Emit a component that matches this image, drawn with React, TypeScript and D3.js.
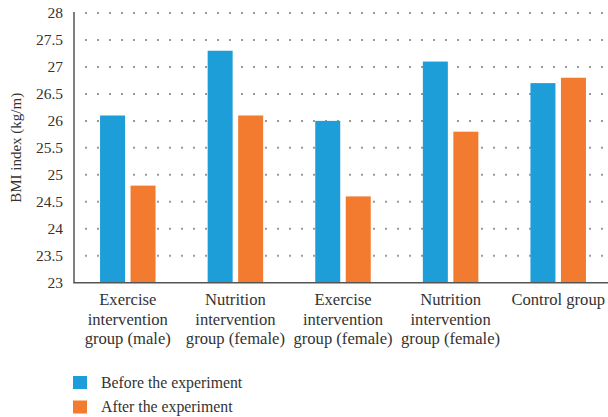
import React from "react";
import * as d3 from "d3";

const categories: string[][] = [
  ["Exercise", "intervention", "group (male)"],
  ["Nutrition", "intervention", "group (female)"],
  ["Exercise", "intervention", "group (female)"],
  ["Nutrition", "intervention", "group (female)"],
  ["Control group"],
];
const beforeValues = [26.1, 27.3, 26.0, 27.1, 26.7];
const afterValues = [24.8, 26.1, 24.6, 25.8, 26.8];
const yTicks = [23, 23.5, 24, 24.5, 25, 25.5, 26, 26.5, 27, 27.5, 28];
const seriesNames = ["Before the experiment", "After the experiment"];
const seriesColors = ["#1E9ED8", "#F37B2F"];

const W = 608;
const H = 417;
const FONT = "'Liberation Serif', 'Times New Roman', serif";

export default function App() {
  const left = 74;
  const top = 13;
  const bottom = 282.7;
  const x = d3
    .scaleBand<number>()
    .domain(categories.map((_, i) => i))
    .range([left, 612]);
  const y = d3.scaleLinear().domain([23, 28]).range([bottom, top]);
  const barW = 25;
  const gap = 5.5;
  const series = [beforeValues, afterValues];

  return (
    <svg
      width={W}
      height={H}
      style={{ position: "absolute", left: 0, top: 0, background: "#fff" }}
      fontFamily={FONT}
    >
      {/* dotted gridlines */}
      {yTicks.slice(1).map((t) => (
        <line
          key={"g" + t}
          x1={left + 11}
          x2={W}
          y1={y(t)}
          y2={y(t)}
          stroke="#9a9a9a"
          strokeWidth={2}
          strokeDasharray="2 10"
        />
      ))}
      {/* tick labels */}
      {yTicks.map((t) => (
        <text
          key={"t" + t}
          x={63}
          y={y(t)}
          dy="0.35em"
          textAnchor="end"
          fontSize={15.5}
          fill="#333"
        >
          {t}
        </text>
      ))}
      {/* bars */}
      {series.map((vals, s) =>
        vals.map((v, i) => {
          const c = (x(i) as number) + x.bandwidth() / 2;
          const bx = s === 0 ? c - gap / 2 - barW : c + gap / 2;
          return (
            <rect
              key={`b${s}-${i}`}
              x={bx}
              y={y(v)}
              width={barW}
              height={y(23) - y(v)}
              fill={seriesColors[s]}
            />
          );
        })
      )}
      {/* axes */}
      <line x1={left} x2={left} y1={top - 1} y2={bottom} stroke="#555" strokeWidth={1.5} />
      <line x1={left - 0.75} x2={W} y1={bottom} y2={bottom} stroke="#555" strokeWidth={1.5} />
      {/* category labels */}
      {categories.map((lines, i) => {
        const c = (x(i) as number) + x.bandwidth() / 2;
        return (
          <text key={"c" + i} textAnchor="middle" fontSize={16.6} fill="#333">
            {lines.map((ln, j) => (
              <tspan key={j} x={c} y={305 + j * 19.5}>
                {ln}
              </tspan>
            ))}
          </text>
        );
      })}
      {/* y axis title */}
      <text
        transform={`translate(21,${(top + bottom) / 2}) rotate(-90)`}
        textAnchor="middle"
        fontSize={15}
        fill="#333"
      >
        BMI index (kg/m)
      </text>
      {/* legend */}
      {seriesNames.map((name, i) => (
        <g key={"l" + i} transform={`translate(73,${376 + i * 24.5})`}>
          <rect width={14} height={13} fill={seriesColors[i]} />
          <text x={28} y={11.5} fontSize={15.8} fill="#333">
            {name}
          </text>
        </g>
      ))}
    </svg>
  );
}
